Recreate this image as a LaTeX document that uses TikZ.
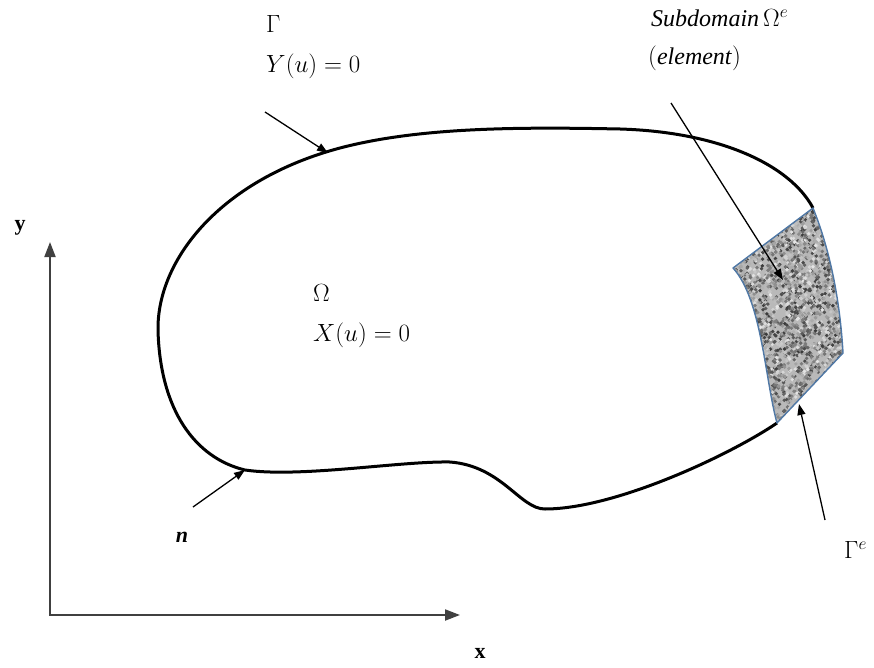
\documentclass[tikz,border=0pt]{standalone}
\usepackage{fontspec}
\setmainfont{Liberation Serif}
\usetikzlibrary{arrows.meta}
\definecolor{edgeblue}{RGB}{80,120,165}
\tikzset{
  lbl/.style={inner sep=0pt, font=\fontsize{24}{28}\selectfont},
  ptr/.style={line width=1.3pt, -{Triangle[length=11pt,width=8pt]}},
  axis/.style={line width=2pt, draw=black!75, -{Triangle[length=15pt,width=11pt]}},
  bound/.style={line width=3pt},
}
\begin{document}
\begin{tikzpicture}[x=1pt,y=-1pt]
\useasboundingbox (0,0) rectangle (874,668);
% domain boundary
\draw[bound, line join=round]
 (777,423) .. controls (730,455) and (615,509) .. (545,509)
 .. controls (520,509) and (502,466) .. (450,462)
 .. controls (400,461) and (300,478) .. (245,470)
 .. controls (195,458) and (160,410) .. (158,330)
 .. controls (157,260) and (220,180) .. (340,148)
 .. controls (420,127) and (520,127) .. (620,129)
 .. controls (720,132) and (790,165) .. (813,208);
% element
\def\elem{(813,208) .. controls (830,250) and (840,300) .. (843,353)
  -- (777,423) .. controls (765,380) and (762,300) .. (733,268) -- cycle}
\begin{scope}
 \clip \elem;
 \fill[gray!55] (725,200) rectangle (850,430);
 \pgfmathsetseed{11}
 \foreach \i in {1,...,3400} {
   \pgfmathsetmacro\px{725+125*rnd}
   \pgfmathsetmacro\py{200+230*rnd}
   \pgfmathtruncatemacro\g{10+68*rnd}
   \fill[black!\g] (\px,\py) circle (1.9);
 }
\end{scope}
\draw[edgeblue, line width=1.4pt, line join=round] \elem;
% axes
\coordinate (O) at (50,615);
\coordinate (O2) at (49,615);
\coordinate (yend) at (50,242);
\coordinate (xend) at (460,615);
\draw[axis] (O) -- (yend);
\draw[axis] (O2) -- (xend);
% labels
\node[lbl, anchor=west] (gam) at (266,24) {$\Gamma$};
\node[lbl, anchor=west] (yu) at (266,66) {$Y\bigl(u\bigr)=0$};
\node[lbl, anchor=west] (om) at (313,293) {$\Omega$};
\node[lbl, anchor=west] (xu) at (313,335) {$X\bigl(u\bigr)=0$};
\node[lbl, anchor=west] (sub) at (651,18) {\textit{Subdomain}\,$\Omega^{e}$};
\node[lbl, anchor=west] (ele) at (648,58) {$\bigl($\textit{element}$\bigr)$};
\node[lbl, anchor=west] (ge) at (844,550) {$\Gamma^{e}$};
\node[inner sep=0pt, font=\fontsize{22}{26}\selectfont\bfseries\itshape] (nl) at (182,537) {n};
\node[inner sep=0pt, font=\fontsize{22}{26}\selectfont\bfseries] (yl) at (20,228) {y};
\node[inner sep=0pt, font=\fontsize{22}{26}\selectfont\bfseries] (xl) at (480,653) {x};
% pointers
\coordinate (g0) at (265,112); \coordinate (g1) at (328,153);
\coordinate (s0) at (671,103); \coordinate (s1) at (783,280);
\coordinate (e0) at (825,520); \coordinate (e1) at (799,404);
\coordinate (n0) at (193,507); \coordinate (n1) at (245,470);
\draw[ptr] (g0) -- (g1);
\draw[ptr] (s0) -- (s1);
\draw[ptr] (e0) -- (e1);
\draw[ptr] (n0) -- (n1);
\end{tikzpicture}
\end{document}
